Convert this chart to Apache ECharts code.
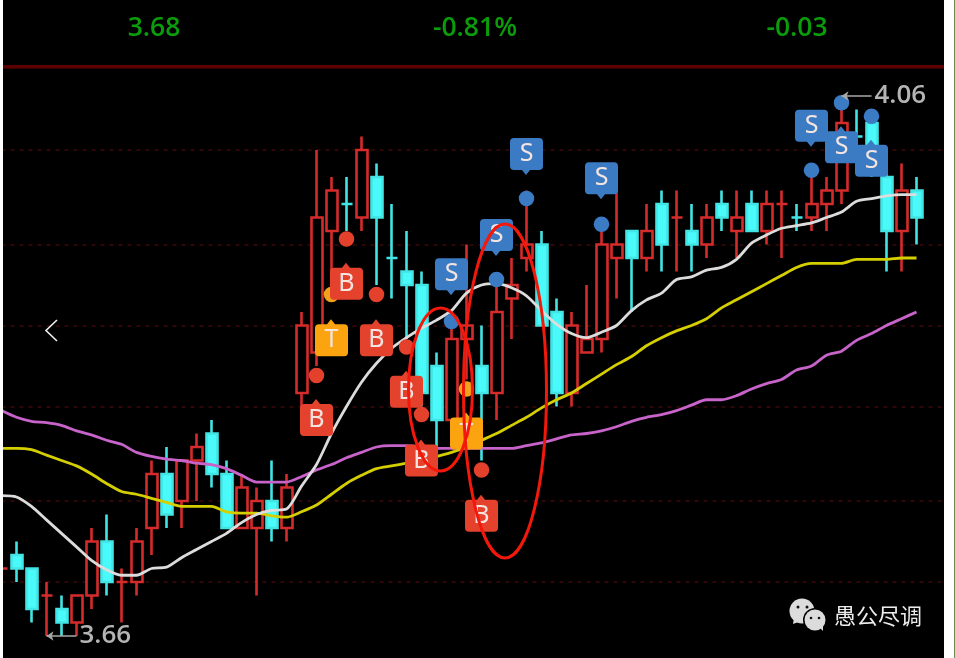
<!DOCTYPE html>
<html>
<head>
<meta charset="utf-8">
<style>html,body{margin:0;padding:0;background:#fff}#c{width:955px;height:658px}</style>
<script src="https://cdn.jsdelivr.net/npm/echarts@6/dist/echarts.min.js"></script>
</head>
<body>
<div id="c"></div>
<script>
// ---- data ----
const opens  = [3.71,3.72,3.71,3.69,3.68,3.67,3.69,3.73,3.70,3.70,3.74,3.78,3.76,3.79,3.81,3.78,3.74,3.74,3.76,3.74,3.84,3.87,3.96,3.98,3.97,4.00,3.94,3.93,3.92,3.86,3.82,3.88,3.86,3.84,3.91,3.94,3.95,3.90,3.84,3.87,3.88,3.94,3.96,3.94,3.98,3.97,3.96,3.95,3.98,3.96,3.98,3.96,3.98,3.97,3.97,3.98,3.99,4.03,4.04,4.00,3.96,3.99];
const closes = [3.71,3.71,3.68,3.69,3.67,3.69,3.73,3.70,3.70,3.73,3.78,3.75,3.79,3.80,3.78,3.74,3.77,3.76,3.74,3.77,3.89,3.97,3.99,3.98,4.02,3.97,3.94,3.92,3.84,3.82,3.88,3.89,3.84,3.90,3.92,3.95,3.89,3.84,3.89,3.88,3.95,3.95,3.94,3.96,3.95,3.97,3.95,3.97,3.97,3.97,3.96,3.98,3.98,3.97,3.98,3.99,4.04,4.03,4.01,3.96,3.99,3.97];
const lows   = [3.70,3.70,3.67,3.66,3.66,3.66,3.68,3.69,3.67,3.69,3.72,3.74,3.74,3.76,3.77,3.74,3.74,3.69,3.73,3.73,3.83,3.86,3.92,3.96,3.96,3.92,3.91,3.88,3.83,3.80,3.81,3.85,3.79,3.82,3.88,3.93,3.89,3.83,3.83,3.87,3.87,3.91,3.90,3.93,3.93,3.93,3.93,3.94,3.96,3.94,3.96,3.95,3.94,3.96,3.96,3.96,3.98,4.01,4.00,3.93,3.93,3.95];
const highs  = [3.72,3.73,3.71,3.70,3.69,3.69,3.74,3.75,3.71,3.74,3.79,3.80,3.79,3.81,3.82,3.79,3.78,3.77,3.79,3.78,3.90,4.02,4.00,4.00,4.03,4.01,3.98,3.96,3.93,3.87,3.89,3.95,3.89,3.92,3.94,3.99,3.96,3.91,3.90,3.92,3.96,3.99,3.96,3.98,3.99,3.99,3.98,3.98,3.99,3.99,3.99,3.99,3.99,3.98,4.00,4.00,4.06,4.05,4.05,4.01,4.01,4.00];
const cyanDojis = [23,26,53,57];
const maWhite = [3.764,3.763,3.756,3.746,3.736,3.726,3.716,3.709,3.705,3.705,3.710,3.711,3.718,3.724,3.730,3.736,3.744,3.750,3.753,3.754,3.771,3.787,3.810,3.830,3.848,3.862,3.873,3.881,3.888,3.894,3.901,3.914,3.920,3.921,3.918,3.912,3.901,3.891,3.884,3.881,3.885,3.890,3.901,3.909,3.914,3.924,3.926,3.931,3.933,3.939,3.951,3.957,3.962,3.964,3.966,3.970,3.974,3.982,3.984,3.986,3.987,3.987];
const maYellow = [3.799,3.799,3.798,3.794,3.790,3.786,3.780,3.773,3.767,3.765,3.762,3.759,3.756,3.756,3.756,3.752,3.751,3.751,3.749,3.748,3.752,3.757,3.765,3.773,3.779,3.784,3.786,3.788,3.790,3.793,3.796,3.800,3.805,3.810,3.816,3.822,3.829,3.835,3.840,3.847,3.854,3.861,3.867,3.875,3.881,3.886,3.890,3.895,3.903,3.909,3.915,3.921,3.927,3.933,3.936,3.936,3.936,3.939,3.939,3.939,3.940,3.940];
const maMagenta = [3.827,3.822,3.819,3.818,3.816,3.812,3.809,3.805,3.802,3.796,3.793,3.791,3.790,3.788,3.787,3.784,3.779,3.774,3.774,3.774,3.778,3.783,3.787,3.792,3.796,3.800,3.801,3.801,3.800,3.799,3.799,3.799,3.799,3.799,3.799,3.801,3.803,3.806,3.809,3.810,3.812,3.815,3.819,3.822,3.824,3.827,3.831,3.835,3.835,3.838,3.843,3.847,3.850,3.857,3.860,3.868,3.871,3.879,3.884,3.890,3.895,3.900];
const gridLevels = [4.018,3.954,3.891,3.827,3.764,3.700];
const buyMarks  = [[21,3.820],[23,3.921],[25,3.879],[27,3.841],[28,3.790],[32,3.749]];
const tradeMarks = [[22,3.879],[31,3.810]];
const sellMarks = [[30,3.928],[33,3.957],[35,4.017],[40,3.999],[54,4.038]];
const sellMarksFlipped = [[56,4.022],[58,4.012]];
const redDots = [[21,3.853],[23,3.954],[25,3.913],[27,3.874],[28,3.824],[32,3.783]];
const orangeDots = [[22,3.913],[31,3.843]];
const blueDots = [[30,3.893],[33,3.924],[35,3.984],[40,3.965],[54,4.005],[56,4.055],[58,4.045]];
const headerValues = ['3.68','-0.81%','-0.03'];
const lowLabel = '3.66', highLabel = '4.06';
const watermark = '愚公尽调';
const categories = [];
for (let i = 0; i < 64; i++) categories.push(String(i));

// ---- styles ----
const RED='#d62b2b', CYAN='#4afafa', TEAL='#42e4e4', BG='#000';
const HEAD='600 26.5px "Open Sans",sans-serif';
const pinUp='path://M16 0L20 5H29Q33 5 33 9V33Q33 37 29 37H4Q0 37 0 33V9Q0 5 4 5H12Z';
const pinDown='path://M4 0H29Q33 0 33 4V28Q33 32 29 32H20L16 37L12 32H4Q0 32 0 28V4Q0 0 4 0Z';
const candleData = opens.map((o,i)=>{
  const v=[o,closes[i],lows[i],highs[i]];
  return cyanDojis.includes(i)?{value:v,itemStyle:{borderColorDoji:TEAL}}:{value:v};
});
function pins(name,data,symbol,color,text,up){
  return {type:'scatter',name,data,symbol,symbolSize:[33,37],symbolOffset:[0,up?-2.5:2.5],z:8,silent:true,
    itemStyle:{color,opacity:1},
    label:{show:true,position:'inside',formatter:text,color:'#f4e4e0',fontSize:25,fontFamily:'"Noto Sans",sans-serif',offset:[0,up?2.5:-2.5]}};
}
function dots(name,data,color){
  return {type:'scatter',name,data,symbol:'circle',symbolSize:15.5,z:7,silent:true,itemStyle:{color,opacity:1}};
}
function maLine(name,data,color,extra){
  return Object.assign({type:'line',name,data,symbol:'none',smooth:0.25,z:5,silent:true,
    lineStyle:{color,width:2.8}},extra||{});
}
const chart = echarts.init(document.getElementById('c'),null,{renderer:'canvas'});
chart.setOption({
  animation:false,
  backgroundColor:BG,
  grid:{left:1.5,width:945,top:0,bottom:0,containLabel:false},
  xAxis:{type:'category',data:categories,show:false,boundaryGap:false},
  yAxis:{type:'value',min:3.6437,max:4.1311,show:false,splitLine:{show:false}},
  series:[
    {type:'candlestick',name:'K',data:candleData,barWidth:11.5,z:3,silent:true,clip:false,
     itemStyle:{color:BG,color0:CYAN,borderColor:RED,borderColor0:TEAL,borderColorDoji:RED,borderWidth:2.6},
     markLine:{silent:true,symbol:'none',z:1,label:{show:false},
       lineStyle:{color:'#3f0909',type:[4,5],width:1.5},
       data:gridLevels.map(v=>({yAxis:v}))}},
    maLine('MA magenta',maMagenta,'#c763c9'),
    maLine('MA yellow',maYellow,'#d6cf00'),
    maLine('MA white',maWhite,'#dcdcdc',{
      markLine:{silent:true,z:9,symbol:['none','arrow'],symbolSize:7,
        lineStyle:{color:'#a8a8a8',type:'solid',width:1.5},
        label:{show:true,position:'start',distance:3,color:'#b4b4b4',fontSize:26,fontWeight:600,fontFamily:'"Open Sans",sans-serif',formatter:p=>p.name},
        data:[
          [{name:lowLabel,coord:[5,3.66]},{coord:[3,3.66]}],
          [{name:highLabel,coord:[58,4.06]},{coord:[56,4.06]}]
        ]}}),
    dots('orange dots',orangeDots,'#f2a31b'),
    dots('red dots',redDots,'#e3412c'),
    dots('blue dots',blueDots,'#3a7bc4'),
    pins('T',tradeMarks,pinUp,'#fba40f','T',true),
    pins('B',buyMarks,pinUp,'#e5422e','B',true),
    pins('S',sellMarks,pinDown,'#3a7bc4','S',false),
    pins('S flipped',sellMarksFlipped,pinUp,'#3a7bc4','S',true)
  ],
  graphic:[
    {type:'rect',z:20,silent:true,shape:{x:0,y:0,width:3,height:658},style:{fill:'#fff'}},
    {type:'rect',z:20,silent:true,shape:{x:944,y:0,width:11,height:658},style:{fill:'#fff'}},
    {type:'rect',z:21,silent:true,shape:{x:954,y:0,width:1,height:658},style:{fill:'#6f8a52'}},
    {type:'rect',z:20,silent:true,shape:{x:3,y:65,width:941,height:3.5},style:{fill:'#5c0000'}},
    {type:'text',z:20,silent:true,style:{x:154,y:28,text:headerValues[0],fill:'#0a9c0a',font:HEAD,textAlign:'center',textVerticalAlign:'middle'}},
    {type:'text',z:20,silent:true,style:{x:475,y:28,text:headerValues[1],fill:'#0a9c0a',font:HEAD,textAlign:'center',textVerticalAlign:'middle'}},
    {type:'text',z:20,silent:true,style:{x:797,y:28,text:headerValues[2],fill:'#0a9c0a',font:HEAD,textAlign:'center',textVerticalAlign:'middle'}},
    {type:'polyline',z:20,silent:true,shape:{points:[[57,320],[46,330.5],[57,341]]},style:{stroke:'#f0f0f0',lineWidth:1.6,fill:'none'}},
    {type:'ellipse',z:20,silent:true,shape:{cx:440.5,cy:389.5,rx:32,ry:81.5},style:{stroke:'#f2180c',lineWidth:3,fill:'none'}},
    {type:'ellipse',z:20,silent:true,shape:{cx:505,cy:391,rx:41.5,ry:167},style:{stroke:'#f2180c',lineWidth:3,fill:'none'}},
    // WeChat-style mark next to the watermark
    {type:'circle',z:20,silent:true,shape:{cx:802,cy:611,r:12.5},style:{fill:'#dcdcdc'}},
    {type:'polygon',z:20,silent:true,shape:{points:[[794,618],[793,624],[801,621]]},style:{fill:'#dcdcdc'}},
    {type:'circle',z:21,silent:true,shape:{cx:815,cy:620,r:12},style:{fill:'#000'}},
    {type:'circle',z:22,silent:true,shape:{cx:815,cy:620,r:10.5},style:{fill:'#dcdcdc'}},
    {type:'polygon',z:22,silent:true,shape:{points:[[819,627],[823,631],[823,625]]},style:{fill:'#dcdcdc'}},
    {type:'circle',z:23,silent:true,shape:{cx:798,cy:607,r:1.5},style:{fill:'#111'}},
    {type:'circle',z:23,silent:true,shape:{cx:807,cy:607,r:1.5},style:{fill:'#111'}},
    {type:'circle',z:23,silent:true,shape:{cx:811,cy:618,r:1.3},style:{fill:'#111'}},
    {type:'circle',z:23,silent:true,shape:{cx:819,cy:618,r:1.3},style:{fill:'#111'}},
    {type:'text',z:20,silent:true,style:{x:834,y:616,text:watermark,fill:'#ececec',font:'22px "Noto Sans CJK SC",sans-serif',textAlign:'left',textVerticalAlign:'middle'}}
  ]
});
</script>
</body>
</html>
